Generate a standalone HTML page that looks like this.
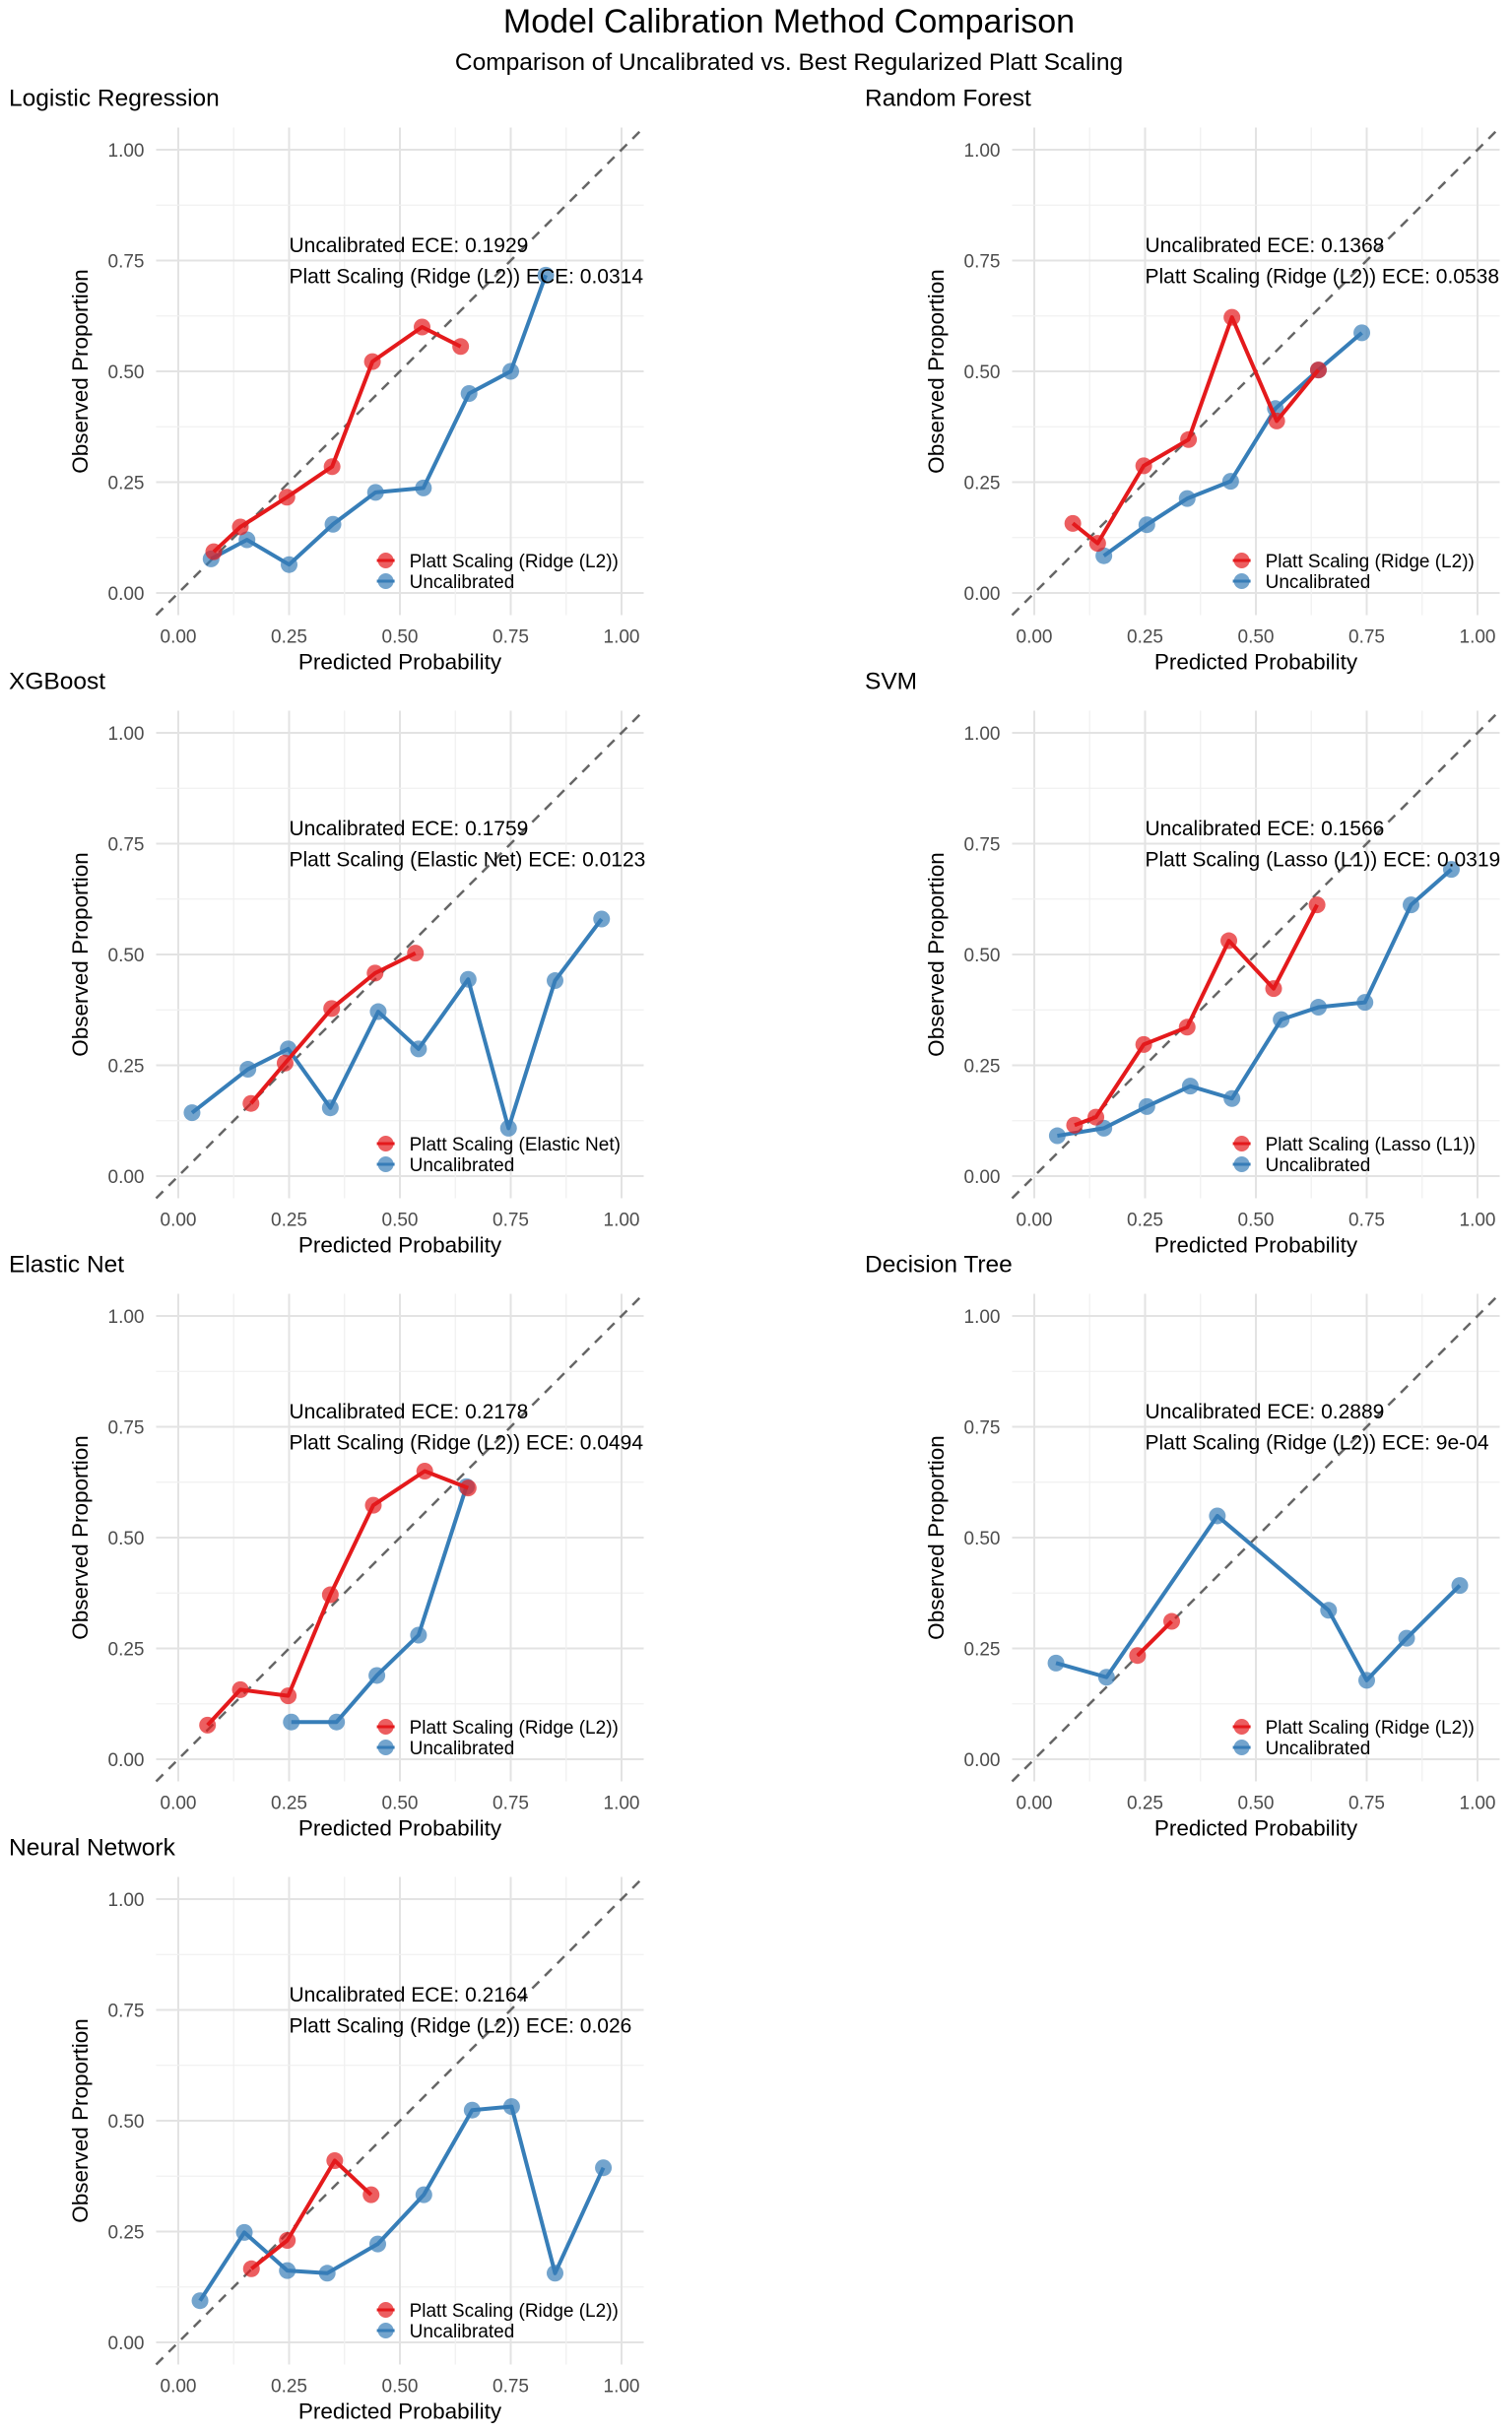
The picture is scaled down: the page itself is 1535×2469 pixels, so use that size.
<!DOCTYPE html>
<html><head><meta charset="utf-8">
<style>
html,body{margin:0;padding:0;background:#fff;}
svg{display:block;font-family:"Liberation Sans",sans-serif;}
</style></head>
<body>
<svg id="chart" width="1535" height="2469" viewBox="0 0 1535 2469">
<text x="801" y="33" font-size="34" text-anchor="middle" fill="#000">Model Calibration Method Comparison</text>
<text x="801" y="71" font-size="24.5" text-anchor="middle" fill="#000">Comparison of Uncalibrated vs. Best Regularized Platt Scaling</text>
</svg>
<script>
const modelNames = ["Logistic Regression","Random Forest","XGBoost","SVM","Elastic Net","Decision Tree","Neural Network"];
const methodNames = ["Ridge (L2)","Ridge (L2)","Elastic Net","Lasso (L1)","Ridge (L2)","Ridge (L2)","Ridge (L2)"];
const uncalECE = ["0.1929","0.1368","0.1759","0.1566","0.2178","0.2889","0.2164"];
const plattECE = ["0.0314","0.0538","0.0123","0.0319","0.0494","9e-04","0.026"];
const tickValues = [0,0.25,0.5,0.75,1];
const tickLabels = ["0.00","0.25","0.50","0.75","1.00"];

const plattX = [
 [0.08,0.14,0.245,0.347,0.438,0.55,0.637],
 [0.087,0.143,0.247,0.348,0.446,0.547,0.641],
 [0.164,0.241,0.346,0.444,0.535],
 [0.091,0.139,0.247,0.345,0.439,0.54,0.638],
 [0.066,0.14,0.248,0.343,0.44,0.556,0.654],
 [0.233,0.31],
 [0.165,0.246,0.353,0.435]
];
const plattY = [
 [0.093,0.149,0.216,0.285,0.522,0.60,0.556],
 [0.157,0.112,0.287,0.346,0.622,0.388,0.503],
 [0.164,0.255,0.378,0.458,0.503],
 [0.115,0.133,0.297,0.336,0.531,0.423,0.612],
 [0.077,0.157,0.143,0.371,0.573,0.65,0.612],
 [0.234,0.311],
 [0.166,0.23,0.41,0.333]
];
const uncalX = [
 [0.074,0.155,0.25,0.349,0.445,0.553,0.656,0.75,0.829],
 [0.157,0.254,0.345,0.443,0.544,0.641,0.739],
 [0.031,0.157,0.248,0.343,0.451,0.542,0.654,0.745,0.85,0.955],
 [0.052,0.157,0.254,0.352,0.446,0.557,0.641,0.746,0.85,0.941],
 [0.255,0.357,0.448,0.542,0.65],
 [0.049,0.163,0.413,0.664,0.75,0.84,0.96],
 [0.049,0.149,0.246,0.336,0.45,0.554,0.663,0.752,0.85,0.959]
];
const uncalY = [
 [0.077,0.12,0.064,0.155,0.227,0.237,0.45,0.50,0.717],
 [0.084,0.154,0.213,0.252,0.416,0.503,0.587],
 [0.143,0.241,0.287,0.154,0.371,0.287,0.444,0.108,0.441,0.58],
 [0.091,0.108,0.157,0.203,0.175,0.353,0.381,0.392,0.612,0.692],
 [0.084,0.084,0.189,0.28,0.615],
 [0.217,0.185,0.549,0.336,0.178,0.273,0.392],
 [0.094,0.248,0.162,0.156,0.222,0.333,0.524,0.532,0.156,0.394]
];

const NS="http://www.w3.org/2000/svg";
const svg=document.getElementById('chart');
const RED="#E41A1C", BLUE="#377EB8";
function mk(tag,attrs,parent){const e=document.createElementNS(NS,tag);for(const k in attrs)e.setAttribute(k,attrs[k]);parent.appendChild(e);return e;}

const colX0=[181,1050], rowY0=[602,1194,1786,2378], SCALE=450;

modelNames.forEach((name,i)=>{
  const col=i%2,row=Math.floor(i/2);
  const ox=colX0[col], oy=rowY0[row];
  const sx=v=>ox+v*SCALE, sy=v=>oy-v*SCALE;
  const g=mk('g',{},svg);
  
  
  for(let k=0;k<=8;k++){
    const v=k*0.125, major=k%2===0;
    const c=major?"#e3e3e3":"#f0f0f0", w=major?2:1.3;
    const gl=mk('line',{x1:sx(-0.05),x2:sx(1.05),y1:sy(v),y2:sy(v),stroke:c,'stroke-width':w},g);
    
    
    const gv=mk('line',{x1:sx(v),x2:sx(v),y1:sy(-0.05),y2:sy(1.05),stroke:c,'stroke-width':w},g);
    
    
  }
  tickValues.forEach((v,k)=>{
    const ty=mk('text',{x:sx(-0.05)-12,y:sy(v)+7,'font-size':19,'text-anchor':'end',fill:'#4d4d4d'},g);
    ty.textContent=tickLabels[k];
    
    
    const tx=mk('text',{x:sx(v),y:sy(-0.05)+28,'font-size':19,'text-anchor':'middle',fill:'#4d4d4d'},g);
    tx.textContent=tickLabels[k];
    
    
  });
  const xt=mk('text',{x:sx(0.5),y:sy(-0.05)+55,'font-size':22.5,'text-anchor':'middle',fill:'#000'},g);
  xt.textContent="Predicted Probability";
  
  
  const yx=ox-92, yy=sy(0.5);
  const yt=mk('text',{x:yx,y:yy,'font-size':22.5,'text-anchor':'middle',fill:'#000',transform:`rotate(-90 ${yx} ${yy})`},g);
  yt.textContent="Observed Proportion";
  
  
  const pt=mk('text',{x:col?878:9,y:sy(1.05)-22,'font-size':24.5,fill:'#000'},g);
  pt.textContent=name;
  
  
  const dg=mk('line',{x1:sx(-0.05),y1:sy(-0.05),x2:sx(1.05),y2:sy(1.05),stroke:'#666','stroke-width':2.5,'stroke-dasharray':'10 8'},g);
  
  
  const series=[[uncalX[i],uncalY[i],BLUE,'uncalibrated'],[plattX[i],plattY[i],RED,'platt']];
  series.forEach(([xs,ys,c,nm])=>{
    const pts=xs.map((x,k)=>sx(x)+','+sy(ys[k])).join(' ');
    const pl=mk('polyline',{points:pts,fill:'none',stroke:c,'stroke-width':4,'stroke-linejoin':'round'},g);
    
    
    xs.forEach((x,k)=>{
      const cc=mk('circle',{cx:sx(x),cy:sy(ys[k]),r:8.5,fill:c,'fill-opacity':0.7},g);
      
      
    });
  });
  const a1=mk('text',{x:sx(0.25),y:sy(0.785)+7,'font-size':21,fill:'#000'},g);
  a1.textContent="Uncalibrated ECE: "+uncalECE[i];
  
  
  const a2=mk('text',{x:sx(0.25),y:sy(0.715)+7,'font-size':21,fill:'#000'},g);
  a2.textContent="Platt Scaling ("+methodNames[i]+") ECE: "+plattECE[i];
  
  
  const lx=sx(0.468);
  [[RED,"Platt Scaling ("+methodNames[i]+")",-33,'legend-entry-platt'],[BLUE,"Uncalibrated",-12,'legend-entry-uncalibrated']].forEach(([c,t,dy,nm])=>{
    const lg=mk('g',{},g);
    
    
    mk('line',{x1:lx-9,x2:lx+9,y1:oy+dy,y2:oy+dy,stroke:c,'stroke-width':3},lg);
    mk('circle',{cx:lx,cy:oy+dy,r:8,fill:c,'fill-opacity':0.7},lg);
    const tt=mk('text',{x:lx+24,y:oy+dy+7,'font-size':19,fill:'#000'},lg);
    tt.textContent=t;
  });
});
</script>
</body></html>
